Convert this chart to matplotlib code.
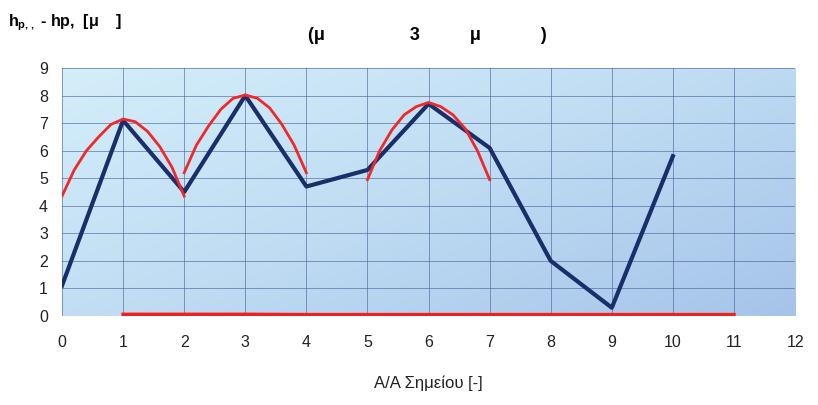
import numpy as np
import matplotlib.pyplot as plt
from matplotlib.colors import LinearSegmentedColormap

plt.rcParams['font.family'] = ['Liberation Sans', 'DejaVu Sans']

# measured points (blue line)
pts_x = [0, 1, 2, 3, 4, 5, 6, 7, 8, 9, 10]
pts_y = [1.1, 7.1, 4.5, 8.0, 4.7, 5.3, 7.7, 6.1, 2.0, 0.3, 5.8]

# red fitted arcs
arc1_x = [0, 0.2, 0.4, 0.6, 0.8, 1.0, 1.2, 1.4, 1.6, 1.8, 2.0]
arc1_y = [4.35, 5.3, 6.0, 6.5, 6.95, 7.15, 7.05, 6.7, 6.15, 5.4, 4.35]
arc2_x = [2.0, 2.2, 2.4, 2.6, 2.8, 3.0, 3.2, 3.4, 3.6, 3.8, 4.0]
arc2_y = [5.2, 6.2, 6.9, 7.5, 7.9, 8.02, 7.9, 7.55, 6.95, 6.2, 5.2]
arc3_x = [5.0, 5.2, 5.4, 5.6, 5.8, 6.0, 6.2, 6.4, 6.6, 6.8, 7.0]
arc3_y = [4.95, 6.0, 6.75, 7.3, 7.6, 7.75, 7.6, 7.3, 6.8, 6.0, 4.95]

# red baseline
base_x = [1, 2, 3, 4, 5, 6, 7, 8, 9, 10, 11]
base_y = [0.06, 0.06, 0.06, 0.05, 0.05, 0.05, 0.05, 0.05, 0.05, 0.05, 0.05]

x_ticks = list(range(0, 13))
y_ticks = list(range(0, 10))

fig = plt.figure(figsize=(8.18, 4.05), dpi=100)
ax = fig.add_axes([0.0758, 0.2198, 0.8962, 0.6122])

# background gradient (light cyan top-left -> blue bottom-right)
cmap = LinearSegmentedColormap.from_list('bg', ['#d4eef9', '#bfdcf3', '#a6c4e9'])
gx, gy = np.meshgrid(np.linspace(0, 1, 200), np.linspace(0, 1, 100))
ax.imshow(gx * 0.55 + gy * 0.45, extent=[0, 12, 0, 9], origin='upper',
          cmap=cmap, aspect='auto', zorder=0)

ax.set_xlim(0, 12)
ax.set_ylim(0, 9)
ax.set_xticks(x_ticks)
ax.set_yticks(y_ticks)
ax.grid(True, color='#4a5f98', linewidth=0.7, alpha=0.6, zorder=1)
ax.set_axisbelow(False)
for s in ax.spines.values():
    s.set_visible(False)
ax.tick_params(length=0, labelsize=11.5, colors='#222222', pad=14)
ax.tick_params(axis='y', pad=10)

ax.plot(base_x, base_y, color='#f02020', linewidth=2.5, zorder=3)
ax.plot(pts_x, pts_y, color='#1a2f6a', linewidth=3, zorder=4)
for xs, ys in [(arc1_x, arc1_y), (arc2_x, arc2_y), (arc3_x, arc3_y)]:
    ax.plot(xs, ys, color='#f02828', linewidth=2, zorder=5)

ax.set_xlabel('Α/Α Σημείου [-]', fontsize=12, color='#222222', labelpad=18)

fig.text(0.01, 0.945, r'h$_{\mathregular{p,,}}$ - hp,  [μ    ]', fontsize=11.5,
         fontweight='bold', ha='left', va='center')
fig.text(0.522, 0.912, '(μ                 3          μ            )', fontsize=13,
         fontweight='bold', ha='center', va='center')

fig.savefig('out.png', dpi=100)
